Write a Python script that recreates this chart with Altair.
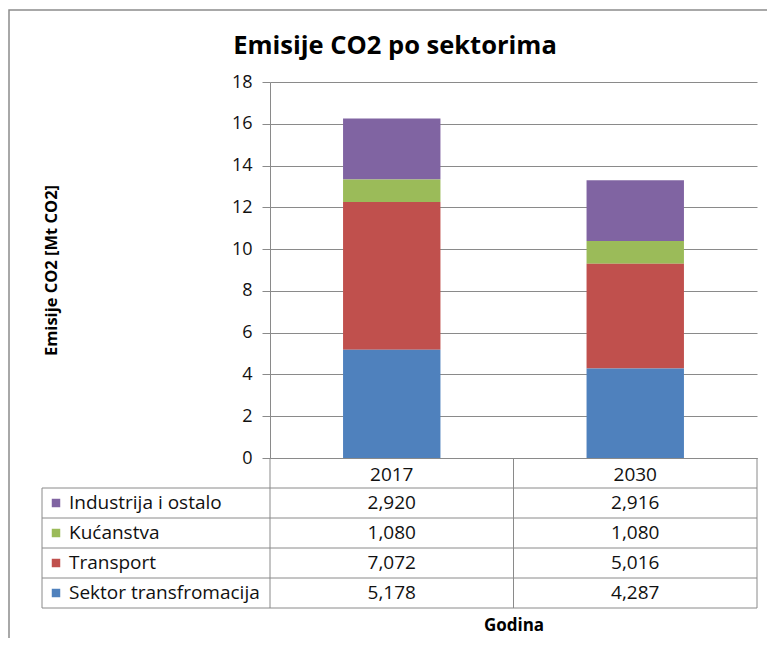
import altair as alt
import pandas as pd

# ---- data ----
title_text = "Emisije CO2 po sektorima"
years = ["2017", "2030"]
sectors = ["Industrija i ostalo", "Kućanstva", "Transport", "Sektor transfromacija"]  # table order, top -> bottom
colors = ["#8064A2", "#9BBB59", "#C0504D", "#4F81BD"]
v2017 = [2.920, 1.080, 7.072, 5.178]
v2030 = [2.916, 1.080, 5.016, 4.287]
y_ticks = [0, 2, 4, 6, 8, 10, 12, 14, 16, 18]

# ---- layout constants ----
W, H = 487, 376
ROW_H = 30
LEFT_COL = 228
FONT = "Open Sans"
LINE = "#8a8a8a"
TXT = 19

recs = []
for i, s in enumerate(sectors):
    for yr, vals in zip(years, [v2017, v2030]):
        recs.append({"sector": s, "year": yr, "value": vals[i], "row": i,
                     "stack": len(sectors) - 1 - i})
df = pd.DataFrame(recs)

xscale = alt.Scale(type="band", domain=years, paddingInner=0, paddingOuter=0)
cscale = alt.Scale(domain=sectors, range=colors)

bars = alt.Chart(df).mark_bar(width=alt.RelativeBandSize(0.4)).encode(
    x=alt.X("year:N", scale=xscale, sort=years,
            axis=alt.Axis(title="Godina", labelAngle=0, ticks=False, tickSize=0,
                          labelPadding=16, labelBaseline="middle",
                          labelFont=FONT, labelFontSize=TXT, labelColor="#111",
                          domainColor=LINE, titleFont=FONT, titleFontSize=17,
                          titleFontWeight="bold", titleColor="#000",
                          titlePadding=133)),
    y=alt.Y("value:Q", stack="zero", scale=alt.Scale(domain=[0, 18], nice=False),
            axis=alt.Axis(title="Emisije CO2 [Mt CO2]", values=y_ticks, grid=True,
                          gridColor=LINE, domainColor=LINE, tickColor=LINE,
                          tickSize=8, labelPadding=10, labelFont=FONT,
                          labelFontSize=18, labelColor="#111",
                          titleFont=FONT, titleFontSize=16.5, titleFontWeight="bold",
                          titleColor="#000", titlePadding=172)),
    color=alt.Color("sector:N", scale=cscale, legend=None),
    order=alt.Order("stack:Q", sort="ascending"),
)

row_y = f"{H} + {ROW_H} * (datum.row + 1.5)"

values_text = alt.Chart(df).transform_calculate(
    label="replace(format(datum.value, '.3f'), '.', ',')", ty=row_y
).mark_text(font=FONT, fontSize=TXT, color="#111", baseline="middle").encode(
    x=alt.X("year:N", scale=xscale, axis=None),
    y=alt.Y("ty:Q", scale=None, axis=None),
    text="label:N",
)

legend_sq = alt.Chart(df).transform_filter("datum.year == '2017'").transform_calculate(
    ty=row_y
).mark_square(size=72, opacity=1).encode(
    x=alt.value(-LEFT_COL + 14),
    y=alt.Y("ty:Q", scale=None, axis=None),
    color=alt.Color("sector:N", scale=cscale, legend=None),
)

legend_txt = alt.Chart(df).transform_filter("datum.year == '2017'").transform_calculate(
    ty=row_y
).mark_text(font=FONT, fontSize=TXT, color="#111", align="left", baseline="middle").encode(
    x=alt.value(-LEFT_COL + 27),
    y=alt.Y("ty:Q", scale=None, axis=None),
    text="sector:N",
)

# table grid segments from layout constants
segs = []
n = len(sectors)
for k in range(1, n + 2):
    segs.append({"x1": -LEFT_COL, "x2": W, "y1": H + ROW_H * k, "y2": H + ROW_H * k})
for xv in [0, W / 2, W]:
    segs.append({"x1": xv, "x2": xv, "y1": H, "y2": H + ROW_H * (n + 1)})
segs.append({"x1": -LEFT_COL, "x2": -LEFT_COL, "y1": H + ROW_H, "y2": H + ROW_H * (n + 1)})
segs_df = pd.DataFrame(segs)

grid_rules = alt.Chart(segs_df).mark_rule(color=LINE, strokeWidth=1).encode(
    x=alt.X("x1:Q", scale=None, axis=None), x2="x2:Q",
    y=alt.Y("y1:Q", scale=None, axis=None), y2="y2:Q",
)

border = alt.Chart(pd.DataFrame({"a": [0]})).mark_rect(
    filled=False, stroke="#8c8c8c", strokeWidth=1.5
).encode(
    x=alt.value(-261), x2=alt.value(W + 60), y=alt.value(-72), y2=alt.value(H + 300)
)

title = alt.Chart(pd.DataFrame({"t": [title_text]})).mark_text(
    font=FONT, fontSize=25.5, fontWeight="bold", color="#000",
    align="center", baseline="middle"
).encode(x=alt.value(125), y=alt.value(-36), text="t:N")

chart = alt.layer(border, bars, grid_rules, values_text, legend_sq, legend_txt, title).resolve_scale(
    x="independent", y="independent"
).properties(
    width=W, height=H,
    autosize=alt.AutoSizeParams(type="none"),
    padding={"left": 262, "top": 74, "right": 10, "bottom": 180},
).configure_view(stroke="transparent")

chart.save("out.html", embed_options={"renderer": "svg", "actions": False})
